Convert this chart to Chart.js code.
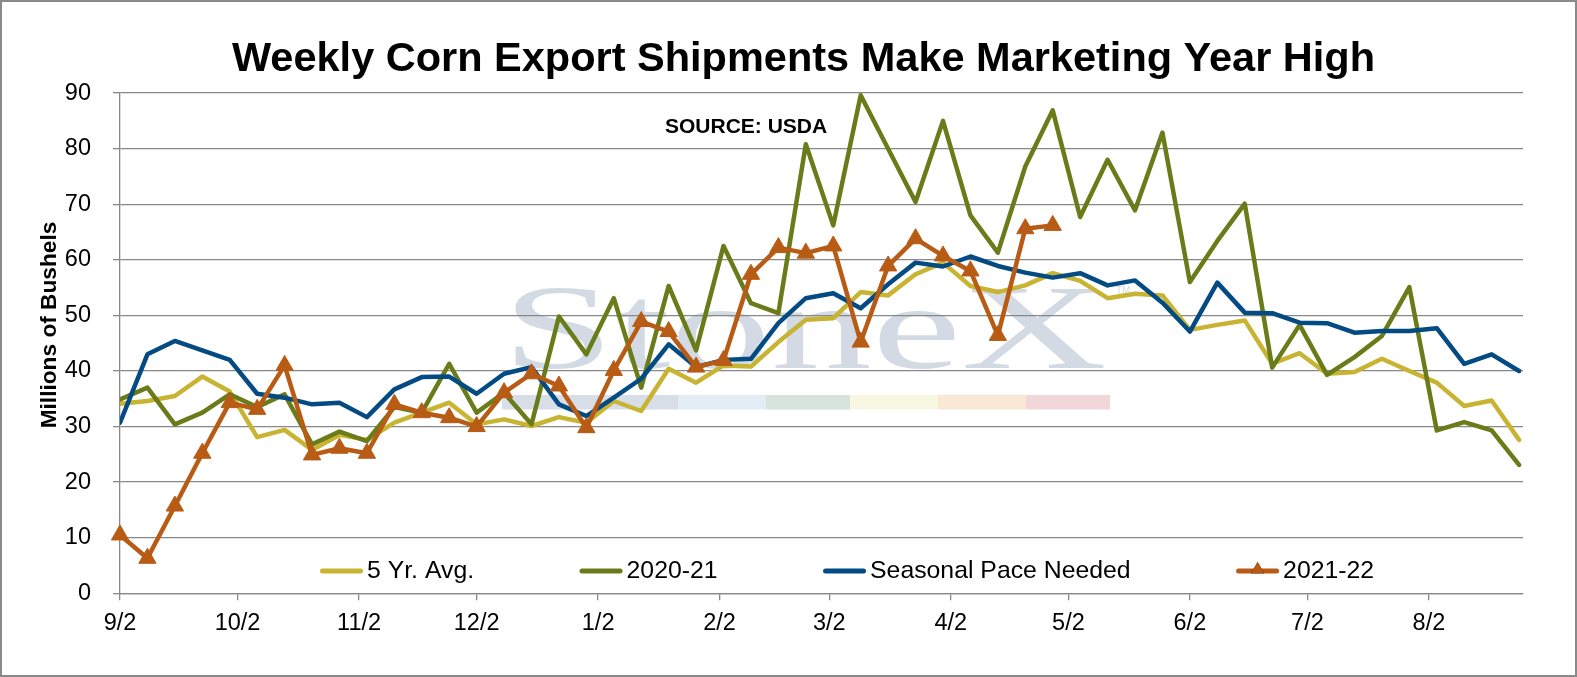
<!DOCTYPE html>
<html>
<head>
<meta charset="utf-8">
<title>Weekly Corn Export Shipments</title>
<script src="https://cdn.jsdelivr.net/npm/chart.js@4.4.1/dist/chart.umd.min.js"></script>
<style>
  html, body { margin: 0; padding: 0; background: #fff; }
  #wrap { position: relative; width: 1577px; height: 677px; }
  #chart1 { display: block; }
  #frame { position: absolute; left: 0; top: 0; width: 1577px; height: 677px; box-sizing: border-box; border: 2px solid #8a8a8a; pointer-events: none; }
</style>
</head>
<body>
<div id="wrap">
  <canvas id="chart1" width="1577" height="677"></canvas>
  <div id="frame"></div>
</div>
<script>
// week ending dates, marketing year 2021-22 (Sep-Dec 2021, Jan-Aug 2022)
const weeks = ['9/2','9/9','9/16','9/23','9/30','10/7','10/14','10/21','10/28','11/4','11/11','11/18','11/25',
  '12/2','12/9','12/16','12/23','12/30','1/6','1/13','1/20','1/27','2/3','2/10','2/17','2/24',
  '3/3','3/10','3/17','3/24','3/31','4/7','4/14','4/21','4/28','5/5','5/12','5/19','5/26',
  '6/2','6/9','6/16','6/23','6/30','7/7','7/14','7/21','7/28','8/4','8/11','8/18','8/25']

const tickLabels = ['9/2','10/2','11/2','12/2','1/2','2/2','3/2','4/2','5/2','6/2','7/2','8/2']

// millions of bushels
const fiveYrAvg = [34.1, 34.6, 35.5, 39.0, 36.3, 28.1, 29.4, 25.8, 28.5, 27.6, 30.7, 32.5, 34.3,
  30.4, 31.3, 30.1, 31.7, 30.7, 34.6, 32.8, 40.4, 37.9, 41.0, 40.8, 45.2, 49.2,
  49.5, 54.2, 53.6, 57.4, 59.5, 55.3, 54.2, 55.4, 57.6, 56.2, 53.1, 53.9, 53.6,
  47.4, 48.3, 49.1, 41.3, 43.2, 39.5, 39.8, 42.2, 40.0, 37.9, 33.7, 34.7, 27.6]

const year2020 = [34.9, 37.0, 30.4, 32.5, 35.8, 33.5, 35.8, 26.8, 29.1, 27.4, 33.5, 32.5, 41.3,
  32.5, 36.1, 30.4, 49.8, 43.0, 53.1, 37.0, 55.3, 43.7, 62.5, 52.2, 50.4, 80.8,
  66.2, 89.6, 80.0, 70.4, 85.0, 68.0, 61.3, 76.8, 86.9, 67.7, 78.0, 68.9, 82.9,
  56.0, 63.4, 70.1, 40.6, 48.3, 39.3, 42.5, 46.3, 55.1, 29.3, 30.8, 29.3, 23.1]

const seasonalPace = [30.7, 43.0, 45.4, 43.7, 42.0, 35.9, 35.2, 34.0, 34.3, 31.7, 36.7, 38.9, 39.0,
  35.9, 39.5, 40.7, 34.0, 31.9, 35.2, 38.6, 44.8, 40.7, 42.0, 42.2, 48.6, 53.1,
  54.0, 51.3, 55.6, 59.5, 58.8, 60.6, 58.9, 57.7, 56.8, 57.6, 55.4, 56.3, 52.3,
  47.1, 55.9, 50.5, 50.4, 48.7, 48.6, 46.9, 47.2, 47.2, 47.7, 41.3, 43.0, 40.0]

const year2021 = [10.5, 6.3, 15.7, 25.2, 34.3, 33.1, 41.0, 24.9, 26.1, 25.2, 34.0, 32.5, 31.6,
  30.0, 36.1, 39.5, 37.3, 29.8, 40.1, 48.9, 47.1, 40.7, 41.9, 57.4, 62.2, 61.2,
  62.5, 45.2, 58.9, 63.8, 60.7, 58.0, 46.4, 65.6, 66.2]

const FONT = '"Liberation Sans", Arial, sans-serif'
Chart.defaults.font.family = FONT
Chart.defaults.color = '#000'

// days since 9/2/2021 for a 'm/d' label
function dayOf(label) {
  const [m, d] = label.split('/').map(Number)
  const y = m >= 9 ? 2021 : 2022
  return (Date.UTC(y, m - 1, d) - Date.UTC(2021, 8, 2)) / 86400000
}
const weekDays = weeks.map(dayOf)
const tickDays = tickLabels.map(dayOf)

function toPoints(values) {
  return values.map((v, i) => ({x: weekDays[i], y: v}))
}

// faint company watermark behind the grid
const watermark = {
  id: 'watermark',
  beforeDraw(chart) {
    const ctx = chart.ctx
    ctx.save()
    ctx.font = '120px "Liberation Serif", serif'
    ctx.fillStyle = '#d3dae3'
    const w = ctx.measureText('StoneX').width
    ctx.translate(502, 368)
    ctx.scale(605 / w, 1)
    ctx.fillText('StoneX', 0, 0)
    ctx.restore()
    ctx.save()
    ctx.font = '10px ' + FONT
    ctx.fillStyle = '#d3dae3'
    ctx.fillText('TM', 1116, 294)
    const stripes = [[502, 678, '#d7dee7'], [678, 766, '#e2edf5'], [766, 850, '#d6e4dc'],
      [850, 938, '#f8f7e2'], [938, 1026, '#fae8d5'], [1026, 1110, '#f2d7da']]
    stripes.forEach(s => {
      ctx.fillStyle = s[2]
      ctx.fillRect(s[0], 395, s[1] - s[0], 14.5)
    })
    ctx.restore()
  }
}

// legend inside the plot, axis title, source note
const insideLegend = {
  id: 'insideLegend',
  afterDraw(chart) {
    const ctx = chart.ctx
    const area = chart.chartArea
    const y = area.bottom - 22.3
    let x = area.left + 200
    ctx.save()
    ctx.font = '24.8px ' + FONT
    ctx.textBaseline = 'middle'
    chart.data.datasets.forEach(ds => {
      ctx.strokeStyle = ds.borderColor
      ctx.lineWidth = 5
      ctx.lineCap = 'round'
      ctx.beginPath()
      ctx.moveTo(x + 2.5, y)
      ctx.lineTo(x + 40.5, y)
      ctx.stroke()
      if (ds.pointStyle === 'triangle') {
        Chart.helpers.drawPoint(ctx, {pointStyle: 'triangle', radius: 7.5, borderWidth: 0}, x + 21.5, y - 1.5)
        ctx.fillStyle = ds.borderColor
        ctx.fill()
      }
      ctx.fillStyle = '#000'
      ctx.fillText(ds.label, x + 47, y)
      x += 47 + ctx.measureText(ds.label).width + 105.5
    })

    // y axis title sits a little above the plot middle, as in the original
    ctx.font = 'bold 22.7px ' + FONT
    ctx.textAlign = 'center'
    ctx.translate(50, 325)
    ctx.rotate(-Math.PI / 2)
    ctx.fillText('Millions of Bushels', 0, 0)
    ctx.restore()

    ctx.save()
    ctx.font = 'bold 21px ' + FONT
    ctx.fillStyle = '#000'
    ctx.fillText('SOURCE: USDA', 665, 133)
    ctx.restore()
  }
}

const ctx1 = document.getElementById('chart1').getContext('2d')
const chart1 = new Chart(ctx1, {
  type: 'line',
  data: {
    datasets: [{
      label: '5 Yr. Avg.',
      data: toPoints(fiveYrAvg),
      borderColor: '#c8b432',
      borderWidth: 4.5,
      pointRadius: 0,
      order: 3
    },
    {
      label: '2020-21',
      data: toPoints(year2020),
      borderColor: '#6a7c19',
      borderWidth: 4.5,
      pointRadius: 0,
      order: 2
    },
    {
      label: 'Seasonal Pace Needed',
      data: toPoints(seasonalPace),
      borderColor: '#034b82',
      borderWidth: 4.5,
      pointRadius: 0,
      order: 1
    },
    {
      label: '2021-22',
      data: toPoints(year2021),
      borderColor: '#b85b15',
      backgroundColor: '#b85b15',
      borderWidth: 4.5,
      pointStyle: 'triangle',
      pointRadius: 10,
      pointBorderWidth: 1,
      clip: false,
      order: 0
    }]
  },
  options: {
    responsive: false,
    animation: false,
    elements: {
      line: { tension: 0, borderJoinStyle: 'round', borderCapStyle: 'round' }
    },
    layout: {
      padding: { left: 30, right: 0, top: 0, bottom: 0 }
    },
    scales: {
      x: {
        type: 'linear',
        min: 0,
        max: 358,
        afterBuildTicks: s => { s.ticks = tickDays.map(v => ({value: v})) },
        afterFit: s => { s.height = 83.7 },
        ticks: {
          autoSkip: false,
          maxRotation: 0,
          padding: 9.1,
          font: { size: 23.5 },
          callback: (v, i) => tickLabels[i]
        },
        grid: { drawOnChartArea: false, tickLength: 7, color: '#888', lineWidth: 1.3 },
        border: { color: '#888', width: 1.3 }
      },
      y: {
        min: 0,
        max: 90,
        afterFit: s => { s.width = 90 },
        ticks: { stepSize: 10, padding: 22, font: { size: 23.5 } },
        grid: { tickLength: 7, color: '#888', lineWidth: 1.3 },
        border: { color: '#888', width: 1.3 }
      },
      yR: {
        position: 'right',
        afterFit: s => { s.width = 54 },
        ticks: { display: false },
        grid: { display: false },
        border: { display: false }
      }
    },
    plugins: {
      legend: { display: false },
      tooltip: { enabled: false },
      title: {
        display: true,
        text: 'Weekly Corn Export Shipments Make Marketing Year High',
        color: '#000',
        font: { size: 41.5, weight: 'bold', lineHeight: 1.2 },
        padding: { top: 35, bottom: 8.3 }
      }
    }
  },
  plugins: [watermark, insideLegend]
})
</script>
</body>
</html>
